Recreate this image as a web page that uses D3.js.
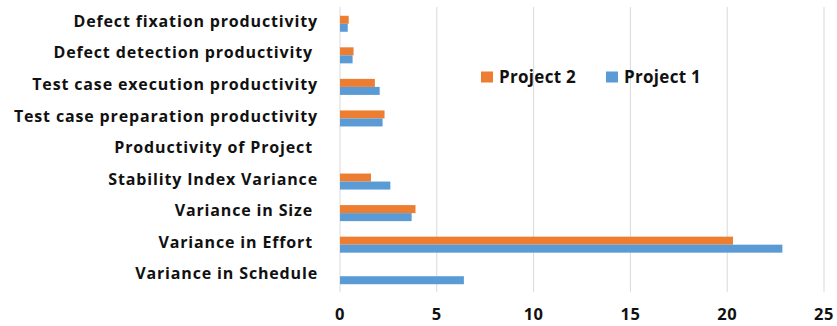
<!DOCTYPE html>
<html>
<head>
<meta charset="utf-8">
<script src="https://cdn.jsdelivr.net/npm/d3@7"></script>
<style>
  body { margin: 0; background: #fff; }
  text { font-family: "Open Sans", sans-serif; font-weight: bold; fill: #111; white-space: pre; }
</style>
</head>
<body>
<div id="chart"></div>
<script>
// categories top to bottom
const categories = [
  "Defect fixation productivity",
  "Defect detection productivity ",
  "Test case execution productivity",
  "Test case preparation productivity",
  "Productivity of Project ",
  "Stability Index Variance",
  "Variance in Size ",
  "Variance in Effort ",
  "Variance in Schedule"
];
const project2 = [0.45, 0.7, 1.8, 2.3, 0, 1.6, 3.9, 20.3, 0];
const project1 = [0.4, 0.65, 2.05, 2.2, 0, 2.6, 3.7, 22.85, 6.4];
const xTicks = [0, 5, 10, 15, 20, 25];
const seriesNames = ["Project 2", "Project 1"];
const seriesColors = ["#ED7D31", "#5B9BD5"];

const width = 837, height = 326;
const marginLeft = 340, marginRight = 13, marginTop = 8, marginBottom = 34;

const svg = d3.select("#chart").append("svg")
  .attr("width", width)
  .attr("height", height);

const x = d3.scaleLinear()
  .domain([0, 25])
  .range([marginLeft, width - marginRight]);

const y = d3.scaleBand()
  .domain(categories)
  .range([marginTop, height - marginBottom]);

const inner = d3.scaleBand()
  .domain(seriesNames)
  .range([0, y.bandwidth()])
  .paddingOuter(0.97)
  .paddingInner(0);

// gridlines
svg.append("g")
  .selectAll("line")
  .data(xTicks.slice(1))
  .join("line")
  .attr("x1", d => x(d)).attr("x2", d => x(d))
  .attr("y1", marginTop - 1).attr("y2", height - marginBottom)
  .attr("stroke", "#d9d9d9")
  .attr("stroke-width", 1);

// left axis line
svg.append("line")
  .attr("x1", x(0)).attr("x2", x(0))
  .attr("y1", marginTop - 1).attr("y2", height - marginBottom)
  .attr("stroke", "#d9d9d9");

// bars
const series = [project2, project1];
series.forEach(function(vals, s) {
  svg.append("g")
    .selectAll("rect")
    .data(vals)
    .join("rect")
    .attr("x", x(0))
    .attr("y", (d, i) => y(categories[i]) + inner(seriesNames[s]))
    .attr("width", d => x(d) - x(0))
    .attr("height", inner.bandwidth())
    .attr("fill", seriesColors[s]);
});

// category labels
svg.append("g")
  .selectAll("text")
  .data(categories)
  .join("text")
  .attr("x", marginLeft - 22)
  .attr("y", d => y(d) + y.bandwidth() / 2 - 2.5)
  .attr("dy", "0.35em")
  .attr("text-anchor", "end")
  .style("font-size", "16px")
  .style("letter-spacing", "0.85px")
  .text(d => d);

// x tick labels
svg.append("g")
  .selectAll("text")
  .data(xTicks)
  .join("text")
  .attr("x", d => x(d))
  .attr("y", 314)
  .attr("dy", "0.35em")
  .attr("text-anchor", "middle")
  .style("font-size", "16.5px")
  .style("letter-spacing", "0.5px")
  .text(d => d);

// legend
const legendX = [481, 606];
seriesNames.forEach(function(name, i) {
  svg.append("rect")
    .attr("x", legendX[i]).attr("y", 71.5)
    .attr("width", 12).attr("height", 11)
    .attr("fill", seriesColors[i]);
  svg.append("text")
    .attr("x", legendX[i] + 18)
    .attr("y", 77.5)
    .attr("dy", "0.35em")
    .style("font-size", "17px")
    .style("letter-spacing", "0.3px")
    .text(name);
});
</script>
</body>
</html>
